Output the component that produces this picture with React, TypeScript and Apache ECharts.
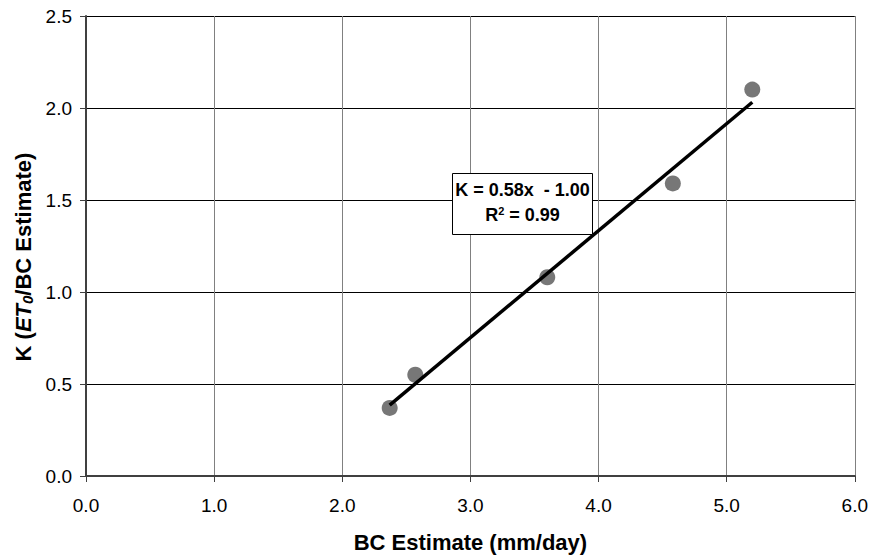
import React, { useEffect, useRef } from "react";
import * as echarts from "echarts";

const bcEstimate = [2.37, 2.57, 3.6, 4.58, 5.2];
const kValues = [0.37, 0.55, 1.08, 1.59, 2.1];
const xTicks = [0, 1, 2, 3, 4, 5, 6];
const yTicks = [0, 0.5, 1, 1.5, 2, 2.5];

function fitLine(xs: number[], ys: number[]) {
  const n = xs.length;
  const mx = xs.reduce((a, b) => a + b, 0) / n;
  const my = ys.reduce((a, b) => a + b, 0) / n;
  let sxy = 0, sxx = 0;
  for (let i = 0; i < n; i++) {
    sxy += (xs[i] - mx) * (ys[i] - my);
    sxx += (xs[i] - mx) * (xs[i] - mx);
  }
  const slope = sxy / sxx;
  return { slope, intercept: my - slope * mx };
}

export default function App() {
  const ref = useRef<HTMLDivElement>(null);
  useEffect(() => {
    if (!ref.current) return;
    const chart = echarts.init(ref.current, null, { renderer: "svg" });
    const { slope, intercept } = fitLine(bcEstimate, kValues);
    const xMin = Math.min(...bcEstimate);
    const xMax = Math.max(...bcEstimate);
    const font = "Arial";
    chart.setOption({
      animation: false,
      textStyle: { fontFamily: font },
      grid: { left: 86, right: 16, top: 16, bottom: 77, containLabel: false },
      xAxis: {
        type: "value",
        min: xTicks[0],
        max: xTicks[xTicks.length - 1],
        interval: 1,
        name: "BC Estimate (mm/day)",
        nameLocation: "middle",
        nameGap: 55,
        nameTextStyle: { fontSize: 22, fontWeight: "bold", color: "#000", fontFamily: font },
        axisLine: { show: true, onZero: false, lineStyle: { color: "#404040", width: 2 } },
        axisTick: { show: true, length: 6, lineStyle: { color: "#404040", width: 1 } },
        axisLabel: { formatter: (v: number) => v.toFixed(1), fontSize: 19, color: "#000", margin: 20, fontFamily: font },
        splitLine: { show: true, lineStyle: { color: "#808080", width: 1 } },
      },
      yAxis: {
        type: "value",
        min: yTicks[0],
        max: yTicks[yTicks.length - 1],
        interval: 0.5,
        axisLine: { show: true, onZero: false, lineStyle: { color: "#404040", width: 2 } },
        axisTick: { show: true, length: 6, lineStyle: { color: "#404040", width: 1 } },
        axisLabel: { formatter: (v: number) => v.toFixed(1), fontSize: 19, color: "#000", margin: 14, fontFamily: font },
        splitLine: { show: true, lineStyle: { color: "#000", width: 1 } },
      },
      graphic: [
        {
          type: "text",
          x: 23,
          y: 257,
          rotation: Math.PI / 2,
          style: {
            text: "{n|K (}{i|ET}{s|0}{n|/BC Estimate)}",
            align: "center",
            verticalAlign: "middle",
            rich: {
              n: { fontSize: 22, fontWeight: "bold", fontFamily: font, fill: "#000", lineHeight: 26 },
              i: { fontSize: 22, fontWeight: "bold", fontStyle: "italic", fontFamily: font, fill: "#000", lineHeight: 26 },
              s: { fontSize: 15, fontWeight: "bold", fontStyle: "italic", fontFamily: font, fill: "#000", lineHeight: 26, padding: [8, 0, 0, 0] },
            },
          },
        },
        {
          type: "group",
          left: 452,
          top: 173,
          children: [
            {
              type: "rect",
              shape: { x: 0, y: 0, width: 140, height: 61 },
              style: { fill: "#fff", stroke: "#000", lineWidth: 1 },
              z: 100,
            },
            {
              type: "text",
              x: 70,
              y: 29,
              z: 101,
              style: {
                text: "{a|K = 0.58x  - 1.00}\n{a|R}{p|2}{a| = 0.99}",
                align: "center",
                verticalAlign: "middle",
                rich: {
                  a: { fontSize: 18, fontWeight: "bold", fontFamily: font, fill: "#000", lineHeight: 25 },
                  p: { fontSize: 11, fontWeight: "bold", fontFamily: font, fill: "#000", lineHeight: 25, padding: [0, 0, 9, 0] },
                },
              },
            },
          ],
        },
      ],
      series: [
        {
          type: "scatter",
          data: bcEstimate.map((x, i) => [x, kValues[i]]),
          symbol: "circle",
          symbolSize: 16,
          itemStyle: { color: "#555555" },
          z: 2,
        },
        {
          type: "line",
          data: [
            [xMin, slope * xMin + intercept],
            [xMax, slope * xMax + intercept],
          ],
          showSymbol: false,
          symbol: "none",
          lineStyle: { color: "#000", width: 3.5 },
          z: 3,
        },
      ],
    });
    return () => chart.dispose();
  }, []);
  return (
    <div
      ref={ref}
      style={{ position: "fixed", left: 0, top: 0, width: 871, height: 558, overflow: "hidden", background: "#fff" }}
    />
  );
}
